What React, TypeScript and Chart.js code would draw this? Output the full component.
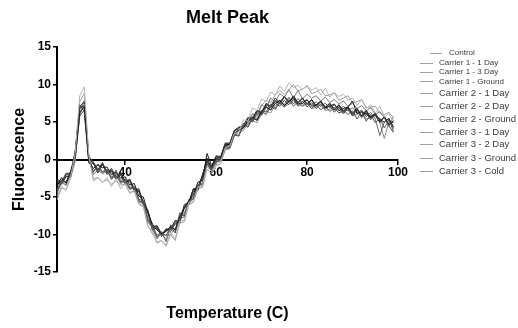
import React, { useEffect, useRef } from "react";
import { Chart, registerables } from "chart.js";

Chart.register(...registerables);

const temperatures = [
  25, 26, 27, 28, 29, 30, 31, 32, 33, 34,
  35, 36, 37, 38, 39, 40, 41, 42, 43, 44,
  45, 46, 47, 48, 49, 50, 51, 52, 53, 54,
  55, 56, 57, 58, 59, 60, 61, 62, 63, 64,
  65, 66, 67, 68, 69, 70, 71, 72, 73, 74,
  75, 76, 77, 78, 79, 80, 81, 82, 83, 84,
  85, 86, 87, 88, 89, 90, 91, 92, 93, 94,
  95, 96, 97, 98, 99,
];

const control = [
  -4.9, -3.6, -4.1, -2.3, 0.8, 8.5, 9.7, 0.5, -2.9, -2.4,
  -3.1, -2.4, -3.6, -2.5, -3.9, -3.2, -4.4, -4.1, -5.9, -6.2,
  -8.9, -9.6, -11.2, -10.8, -11.6, -9.7, -10.6, -8.2, -8.1, -5.7,
  -5.6, -3.7, -3.4, -1.0, -1.6, -0.6, -0.3, 1.6, 1.8, 3.5,
  3.6, 5.3, 5.1, 6.9, 6.5, 8.1, 7.7, 9.0, 8.6, 9.8,
  9.1, 10.2, 9.6, 9.9, 9.3, 9.9, 9.2, 9.6, 8.6, 9.5,
  8.3, 8.9, 8.4, 8.7, 7.9, 8.2, 7.2, 8.0, 6.8, 7.3,
  6.2, 7.1, 5.7, 6.1, 5.0,
];

const carrier1Day1 = [
  -3.6, -2.4, -3.2, -1.5, 0.4, 6.2, 7.1, -0.2, -1.2, -0.7,
  -1.1, -1.0, -2.0, -1.7, -2.5, -2.3, -3.4, -3.2, -4.9, -5.0,
  -7.2, -8.6, -9.4, -9.9, -9.6, -8.9, -9.4, -7.6, -6.5, -5.5,
  -4.7, -3.0, -2.8, 0.8, -0.8, 0.2, 0.2, 1.8, 2.0, 3.5,
  3.9, 4.2, 5.1, 5.6, 5.2, 6.4, 7.0, 6.6, 7.5, 7.9,
  7.2, 7.7, 8.2, 7.4, 7.5, 8.0, 7.1, 7.3, 7.7, 6.9,
  7.1, 7.4, 6.5, 6.8, 7.0, 7.8, 6.1, 6.4, 6.0, 5.7,
  6.1, 5.3, 5.0, 5.5, 4.3,
];

const carrier1Day3 = [
  -4.3, -3.0, -2.9, -2.0, 0.2, 5.8, 6.6, 0.3, -1.7, -0.6,
  -1.7, -1.3, -2.6, -1.4, -3.0, -2.8, -3.9, -3.7, -5.5, -5.7,
  -8.2, -8.9, -10.3, -9.9, -10.1, -9.0, -9.8, -7.1, -7.6, -5.5,
  -5.2, -3.4, -3.3, -0.6, -1.5, -0.3, -0.1, 1.5, 1.6, 3.3,
  3.1, 4.6, 4.3, 5.5, 5.3, 6.4, 6.0, 7.1, 6.7, 7.6,
  7.0, 8.0, 7.1, 7.7, 7.1, 7.5, 6.8, 7.3, 6.6, 7.1,
  6.4, 6.9, 6.2, 6.6, 6.0, 6.5, 5.4, 6.4, 5.1, 6.0,
  4.9, 5.5, 4.2, 5.3, 3.8,
];

const carrier1Ground = [
  -2.6, -3.0, -1.8, -1.9, 1.2, 7.3, 6.4, -0.5, -0.5, -1.8,
  -0.7, -1.7, -1.6, -2.7, -1.7, -2.9, -2.9, -4.0, -3.9, -5.7,
  -6.8, -9.0, -8.8, -9.9, -9.4, -9.3, -8.1, -8.5, -6.0, -5.7,
  -3.9, -4.1, -2.1, -0.3, -1.0, 0.5, 0.4, 2.2, 2.2, 3.9,
  4.3, 4.5, 5.6, 5.5, 6.6, 6.3, 7.5, 7.1, 8.2, 7.6,
  8.4, 7.7, 8.5, 7.6, 8.1, 7.4, 8.0, 7.2, 7.8, 7.0,
  7.5, 6.7, 7.3, 6.5, 7.0, 6.2, 6.8, 5.8, 6.6, 5.6,
  6.1, 5.0, 5.7, 4.6, 5.2,
];

const carrier2Day1 = [
  -4.5, -3.1, -3.4, -2.0, 0.0, 6.0, 7.4, 0.2, -2.0, -1.4,
  -1.9, -1.6, -2.5, -2.2, -3.2, -2.9, -4.0, -3.8, -5.7, -5.9,
  -8.4, -9.1, -10.6, -9.6, -11.0, -9.1, -9.8, -7.8, -7.7, -5.6,
  -5.3, -3.6, -3.5, -0.6, -1.6, -0.3, -0.2, 1.4, 1.5, 3.2,
  3.2, 4.8, 4.7, 6.1, 5.9, 7.3, 6.9, 8.2, 7.7, 8.8,
  8.3, 9.3, 8.2, 9.2, 8.1, 8.7, 8.2, 8.5, 7.8, 8.3,
  7.6, 8.0, 7.4, 7.8, 7.1, 7.5, 6.8, 7.2, 6.5, 6.9,
  6.0, 6.4, 5.5, 4.4, 5.7,
];

const carrier2Day2 = [
  -3.0, -3.3, -2.2, -2.3, 0.7, 6.7, 7.6, 0.4, -0.3, -1.4,
  -0.5, -2.0, -1.3, -2.6, -2.1, -3.2, -2.7, -4.3, -4.2, -6.0,
  -7.0, -9.3, -9.1, -10.3, -9.2, -9.6, -8.5, -8.1, -6.3, -6.0,
  -4.2, -3.9, -2.3, -0.1, -1.3, 0.0, 0.0, 1.7, 1.7, 3.4,
  4.0, 4.2, 5.3, 5.0, 6.2, 5.9, 7.0, 6.6, 7.5, 7.1,
  7.9, 7.3, 8.0, 7.2, 7.8, 7.0, 7.6, 6.8, 7.4, 6.7,
  7.2, 6.3, 7.0, 6.1, 6.8, 5.8, 6.6, 5.6, 6.2, 5.3,
  6.0, 4.9, 5.7, 4.5, 3.6,
];

const carrier2Ground = [
  -4.1, -2.7, -3.1, -1.7, 0.3, 6.4, 6.9, -0.1, -1.6, -1.1,
  -1.6, -1.4, -2.3, -2.0, -2.8, -2.6, -3.8, -3.6, -5.3, -5.5,
  -8.0, -8.8, -10.1, -9.7, -10.8, -8.7, -9.5, -7.5, -7.4, -5.3,
  -5.1, -3.3, -3.2, -0.4, -1.3, -0.1, -0.1, 1.8, 1.8, 3.4,
  3.2, 4.8, 4.4, 5.7, 5.5, 6.6, 6.3, 7.4, 6.8, 7.9,
  7.3, 8.3, 7.4, 8.1, 7.5, 7.9, 7.3, 7.7, 7.1, 7.5,
  6.9, 7.3, 6.7, 7.1, 6.5, 6.9, 6.2, 6.6, 5.7, 6.3,
  5.4, 3.2, 5.0, 5.4, 4.3,
];

const carrier3Day1 = [
  -2.9, -3.2, -2.3, -2.3, 0.9, 6.9, 7.2, 0.1, -0.5, -1.6,
  -0.6, -1.8, -1.5, -2.4, -2.0, -3.3, -2.7, -4.1, -4.2, -6.1,
  -7.0, -9.4, -9.1, -10.1, -9.5, -9.3, -8.6, -8.3, -6.5, -5.8,
  -4.0, -4.0, -2.2, 0.2, -1.1, 0.2, 0.2, 2.0, 2.0, 3.7,
  4.2, 4.4, 5.5, 5.2, 6.4, 6.1, 7.3, 6.9, 7.8, 7.4,
  8.3, 7.6, 8.4, 7.5, 8.2, 7.3, 8.0, 7.1, 7.8, 6.9,
  7.4, 6.6, 7.2, 6.3, 6.9, 6.0, 6.7, 5.7, 6.4, 5.5,
  6.0, 5.1, 5.6, 4.7, 5.0,
];

const carrier3Day2 = [
  -4.2, -2.8, -3.5, -1.8, 0.1, 5.9, 6.5, -0.3, -1.5, -1.2,
  -1.8, -1.3, -2.7, -1.8, -3.1, -2.8, -3.7, -3.6, -5.5, -5.8,
  -7.8, -9.4, -10.4, -9.8, -10.2, -10.0, -9.1, -8.0, -7.1, -5.9,
  -5.1, -3.5, -3.2, -0.5, -1.4, -0.1, -0.2, 1.6, 1.6, 3.3,
  3.6, 3.9, 4.8, 5.2, 4.9, 6.1, 6.5, 6.2, 7.2, 7.5,
  7.0, 7.4, 7.9, 7.1, 7.3, 7.6, 6.8, 7.0, 7.3, 6.5,
  6.7, 7.0, 6.2, 6.4, 6.6, 5.8, 6.0, 6.3, 5.4, 5.6,
  5.8, 4.9, 2.8, 5.1, 4.1,
];

const carrier3Ground = [
  -2.7, -3.3, -2.0, -2.1, 0.6, 7.0, 7.8, 0.0, -0.4, -1.4,
  -0.4, -1.7, -1.2, -2.3, -1.8, -3.0, -2.6, -3.9, -4.1, -5.9,
  -6.9, -9.1, -8.9, -10.0, -9.3, -9.2, -8.3, -7.9, -6.2, -5.7,
  -3.9, -3.8, -2.0, -0.2, -1.0, 0.4, 0.3, 2.1, 2.1, 3.8,
  4.3, 4.5, 5.6, 5.3, 6.5, 6.2, 7.4, 7.0, 7.9, 7.5,
  8.4, 7.7, 8.3, 7.6, 8.2, 7.4, 7.9, 7.1, 7.7, 6.9,
  7.5, 6.6, 7.3, 6.4, 7.0, 6.1, 6.8, 5.8, 6.5, 5.6,
  6.1, 5.1, 5.7, 4.7, 5.1,
];

const carrier3Cold = [
  -5.4, -3.8, -4.0, -2.5, -0.3, 7.7, 8.8, 0.6, -2.6, -2.4,
  -3.0, -2.7, -3.3, -2.9, -3.4, -3.3, -4.5, -4.2, -6.0, -6.3,
  -8.9, -9.9, -11.0, -10.8, -11.4, -10.0, -10.8, -8.5, -8.3, -6.0,
  -5.7, -3.9, -3.7, -1.3, -1.9, -0.8, -0.6, 1.3, 1.4, 3.1,
  3.9, 4.3, 5.5, 6.0, 5.8, 7.2, 7.9, 7.6, 8.6, 9.2,
  8.7, 9.3, 10.0, 9.1, 9.4, 9.8, 8.8, 9.0, 9.4, 8.5,
  8.6, 8.9, 7.9, 8.2, 8.5, 7.6, 7.7, 8.0, 6.9, 7.0,
  7.1, 6.2, 6.0, 6.3, 5.6,
];

const seriesNames = [
  "Control",
  "Carrier 1 - 1 Day",
  "Carrier 1 - 3 Day",
  "Carrier 1 - Ground",
  "Carrier 2 - 1 Day",
  "Carrier 2 - 2 Day",
  "Carrier 2 - Ground",
  "Carrier 3 - 1 Day",
  "Carrier 3 - 2 Day",
  "Carrier 3 - Ground",
  "Carrier 3 - Cold",
];

const seriesValues = [
  control,
  carrier1Day1,
  carrier1Day3,
  carrier1Ground,
  carrier2Day1,
  carrier2Day2,
  carrier2Ground,
  carrier3Day1,
  carrier3Day2,
  carrier3Ground,
  carrier3Cold,
];

const seriesColors = [
  "#b4b4b4", "#1a1a1a", "#555555", "#333333", "#7a7a7a", "#444444",
  "#666666", "#2a2a2a", "#8c8c8c", "#3c3c3c", "#9e9e9e",
];

const xTickValues = [40, 60, 80, 100];
const yTickValues = [-15, -10, -5, 0, 5, 10, 15];

const chartTitle = "Melt Peak";
const xTitle = "Temperature (C)";
const yTitle = "Fluorescence";

const FONT = "'Liberation Sans', Arial, sans-serif";

// legend layout: [lineStart, lineEnd, textX, y, fontSize]
const legendLayout = [
  [430, 442, 449, 52.7, 8],
  [420, 433, 439, 62.7, 8],
  [420, 433, 439, 71.7, 8],
  [420, 433, 439, 81.3, 8],
  [420, 433, 439, 93.3, 9.5],
  [420, 433, 439, 106, 9.5],
  [420, 433, 439, 119, 9.5],
  [420, 433, 439, 131.7, 9.5],
  [420, 433, 439, 144.3, 9.5],
  [420, 433, 439, 157.7, 9.5],
  [420, 433, 439, 170.7, 9.5],
];

const decorPlugin = {
  id: "decor",
  afterDraw(chart: any) {
    const { ctx, chartArea } = chart;
    const cx = (chartArea.left + chartArea.right) / 2;
    ctx.save();
    ctx.fillStyle = "#000";
    ctx.textAlign = "center";
    ctx.textBaseline = "alphabetic";
    ctx.font = `bold 18px ${FONT}`;
    ctx.fillText(chartTitle, cx, 23);
    ctx.font = `bold 16px ${FONT}`;
    ctx.fillText(xTitle, cx, 318);
    ctx.save();
    ctx.translate(24, (chartArea.top + chartArea.bottom) / 2);
    ctx.rotate(-Math.PI / 2);
    ctx.fillText(yTitle, 0, 0);
    ctx.restore();

    ctx.textAlign = "left";
    ctx.textBaseline = "middle";
    seriesNames.forEach((name, i) => {
      const [x0, x1, tx, y, fs] = legendLayout[i];
      ctx.strokeStyle = "#a0a0a0";
      ctx.lineWidth = 1;
      ctx.beginPath();
      ctx.moveTo(x0, Math.round(y) + 0.5);
      ctx.lineTo(x1, Math.round(y) + 0.5);
      ctx.stroke();
      ctx.fillStyle = "#3a3a3a";
      ctx.font = `${fs}px ${FONT}`;
      ctx.fillText(name, tx, y + 0.5);
    });
    ctx.restore();
  },
};

export default function App() {
  const canvasRef = useRef<HTMLCanvasElement | null>(null);

  useEffect(() => {
    const canvas = canvasRef.current;
    if (!canvas) return;
    const datasets = seriesNames.map((name, i) => ({
      label: name,
      data: temperatures.map((t, j) => ({ x: t, y: seriesValues[i][j] })),
      borderColor: seriesColors[i],
      backgroundColor: seriesColors[i],
      borderWidth: 1,
      pointRadius: 0,
      tension: 0,
      fill: false,
    }));

    const chart = new Chart(canvas, {
      type: "line",
      data: { datasets },
      options: {
        responsive: false,
        animation: false,
        layout: { padding: { left: 0, top: 47, right: 120, bottom: 56 } },
        plugins: {
          legend: { display: false },
          title: { display: false },
          tooltip: { enabled: false },
        },
        scales: {
          x: {
            type: "linear",
            min: 25,
            max: 100,
            position: { y: 0 } as any,
            afterBuildTicks: (s: any) => {
              s.ticks = xTickValues.map((v) => ({ value: v }));
            },
            ticks: {
              color: "#000",
              font: { family: FONT, size: 12, weight: "bold" },
              padding: 2,
              maxRotation: 0,
              autoSkip: false,
            },
            grid: {
              display: true,
              drawOnChartArea: false,
              drawTicks: true,
              tickLength: 4,
              color: "#000",
              lineWidth: 1.5,
            },
            border: { display: true, color: "#000", width: 2 },
          },
          y: {
            type: "linear",
            min: -15,
            max: 15,
            afterFit: (s: any) => {
              s.width = 57;
            },
            afterBuildTicks: (s: any) => {
              s.ticks = yTickValues.map((v) => ({ value: v }));
            },
            ticks: {
              color: "#000",
              font: { family: FONT, size: 12, weight: "bold" },
              padding: 2,
            },
            grid: {
              display: true,
              drawOnChartArea: false,
              drawTicks: true,
              tickLength: 4,
              color: "#000",
              lineWidth: 1.5,
            },
            border: { display: true, color: "#000", width: 2 },
          },
        },
      },
      plugins: [decorPlugin],
    });
    return () => chart.destroy();
  }, []);

  return (
    <div style={{ position: "fixed", left: 0, top: 0, width: 518, height: 328, background: "#fff" }}>
      <canvas ref={canvasRef} width={518} height={328} />
    </div>
  );
}
